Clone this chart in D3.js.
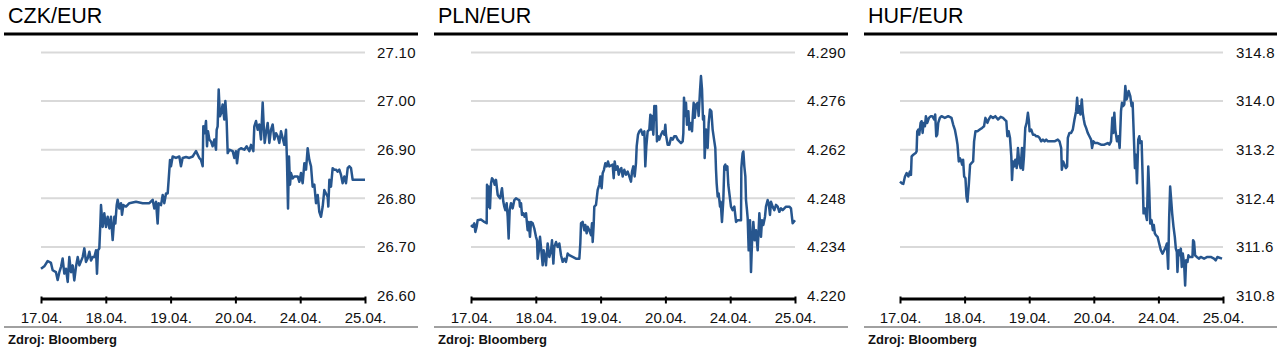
<!DOCTYPE html>
<html>
<head>
<meta charset="utf-8">
<script src="https://cdn.jsdelivr.net/npm/d3@7"></script>
<style>
  html, body { margin: 0; padding: 0; background: #fff; }
  svg { display: block; font-family: "Liberation Sans", Arial, sans-serif; }
</style>
</head>
<body>
<div id="chart"></div>
<script>
// ---- data ----
const dayLabels = ["17.04.", "18.04.", "19.04.", "20.04.", "24.04.", "25.04."];
const titles = ["CZK/EUR", "PLN/EUR", "HUF/EUR"];
const sourceText = "Zdroj: Bloomberg";

const czkTicks = [26.60, 26.70, 26.80, 26.90, 27.00, 27.10];
const plnTicks = [4.220, 4.234, 4.248, 4.262, 4.276, 4.290];
const hufTicks = [310.8, 311.6, 312.4, 313.2, 314.0, 314.8];

// [position in trading days from 17.04., rate]
const czkSeries = [
[0.000,26.655],[0.051,26.660],[0.103,26.671],[0.154,26.667],[0.180,26.652],[0.231,26.648],[0.257,26.632],[0.283,26.648],[0.309,26.659],[0.334,26.676],
[0.360,26.645],[0.386,26.655],[0.412,26.628],[0.437,26.679],[0.463,26.648],[0.489,26.662],[0.514,26.631],[0.540,26.659],[0.566,26.679],[0.592,26.662],
[0.643,26.679],[0.669,26.697],[0.694,26.669],[0.720,26.676],[0.746,26.690],[0.772,26.672],[0.797,26.679],[0.823,26.679],[0.849,26.693],[0.864,26.645],
[0.880,26.693],[0.900,26.697],[0.916,26.748],[0.926,26.786],[0.952,26.741],[0.977,26.769],[1.003,26.741],[1.029,26.762],[1.055,26.738],[1.080,26.762],
[1.106,26.714],[1.132,26.762],[1.147,26.748],[1.168,26.786],[1.183,26.797],[1.209,26.779],[1.235,26.790],[1.250,26.766],[1.271,26.786],[1.312,26.783],
[1.363,26.790],[1.466,26.793],[1.569,26.790],[1.672,26.790],[1.723,26.797],[1.749,26.779],[1.775,26.793],[1.800,26.748],[1.816,26.790],[1.852,26.786],
[1.878,26.807],[1.903,26.790],[1.929,26.810],[1.955,26.810],[1.970,26.838],[1.991,26.879],[2.006,26.866],[2.032,26.886],[2.083,26.883],[2.135,26.886],
[2.160,26.866],[2.186,26.883],[2.238,26.885],[2.289,26.883],[2.341,26.886],[2.392,26.897],[2.443,26.883],[2.469,26.879],[2.495,26.866],[2.505,26.948],
[2.526,26.934],[2.546,26.959],[2.562,26.907],[2.577,26.938],[2.598,26.921],[2.623,26.917],[2.649,26.907],[2.675,26.921],[2.701,26.900],[2.711,26.941],
[2.726,26.948],[2.742,27.024],[2.762,26.969],[2.783,26.976],[2.803,26.993],[2.829,26.962],[2.845,27.000],[2.865,26.959],[2.881,26.893],[2.906,26.900],
[2.958,26.897],[2.984,26.883],[3.009,26.897],[3.025,26.872],[3.050,26.900],[3.086,26.903],[3.138,26.900],[3.174,26.907],[3.215,26.897],[3.241,26.910],
[3.277,26.897],[3.292,26.948],[3.318,26.959],[3.344,26.941],[3.369,26.952],[3.395,26.921],[3.421,26.997],[3.436,26.952],[3.452,26.914],[3.472,26.934],
[3.498,26.955],[3.524,26.914],[3.549,26.941],[3.575,26.952],[3.601,26.921],[3.627,26.934],[3.652,26.928],[3.678,26.914],[3.704,26.938],[3.729,26.924],
[3.755,26.910],[3.781,26.941],[3.796,26.876],[3.812,26.779],[3.827,26.886],[3.843,26.828],[3.858,26.852],[3.884,26.841],[3.909,26.845],[3.961,26.845],
[3.987,26.834],[4.012,26.852],[4.038,26.831],[4.064,26.872],[4.090,26.859],[4.115,26.903],[4.141,26.879],[4.167,26.866],[4.192,26.824],[4.218,26.828],
[4.244,26.790],[4.270,26.807],[4.295,26.772],[4.321,26.762],[4.347,26.783],[4.372,26.817],[4.398,26.810],[4.424,26.803],[4.434,26.783],[4.450,26.838],
[4.475,26.824],[4.501,26.862],[4.527,26.859],[4.552,26.859],[4.578,26.855],[4.604,26.859],[4.630,26.848],[4.655,26.831],[4.681,26.845],[4.707,26.831],
[4.733,26.862],[4.758,26.866],[4.784,26.862],[4.810,26.838],[4.861,26.838],[4.913,26.838],[5.000,26.838]
];

const plnSeries = [
[0.000,4.2403],[0.026,4.2398],[0.051,4.2408],[0.067,4.2383],[0.087,4.2398],[0.103,4.2417],[0.154,4.2419],[0.206,4.2412],[0.242,4.2408],[0.247,4.2519],
[0.262,4.2456],[0.273,4.2514],[0.293,4.2451],[0.309,4.2523],[0.324,4.2538],[0.345,4.2533],[0.365,4.2519],[0.386,4.2533],[0.412,4.2490],[0.427,4.2485],
[0.448,4.2480],[0.463,4.2494],[0.478,4.2509],[0.499,4.2470],[0.514,4.2456],[0.530,4.2446],[0.550,4.2466],[0.566,4.2427],[0.581,4.2364],[0.597,4.2446],
[0.617,4.2466],[0.643,4.2451],[0.669,4.2475],[0.694,4.2480],[0.720,4.2477],[0.746,4.2475],[0.756,4.2456],[0.772,4.2466],[0.787,4.2432],[0.808,4.2437],
[0.828,4.2427],[0.849,4.2437],[0.874,4.2388],[0.890,4.2412],[0.910,4.2369],[0.926,4.2412],[0.952,4.2408],[0.977,4.2393],[1.003,4.2369],[1.019,4.2359],
[1.029,4.2306],[1.044,4.2325],[1.065,4.2369],[1.085,4.2330],[1.106,4.2287],[1.121,4.2330],[1.137,4.2316],[1.157,4.2287],[1.183,4.2350],[1.209,4.2311],
[1.235,4.2330],[1.250,4.2359],[1.271,4.2292],[1.286,4.2340],[1.312,4.2354],[1.337,4.2340],[1.363,4.2350],[1.389,4.2316],[1.415,4.2297],[1.440,4.2306],
[1.466,4.2297],[1.492,4.2321],[1.517,4.2316],[1.569,4.2311],[1.620,4.2306],[1.672,4.2306],[1.687,4.2350],[1.698,4.2408],[1.723,4.2412],[1.749,4.2388],
[1.764,4.2403],[1.785,4.2379],[1.800,4.2398],[1.826,4.2388],[1.852,4.2374],[1.867,4.2408],[1.878,4.2354],[1.893,4.2403],[1.903,4.2456],[1.929,4.2461],
[1.955,4.2504],[1.980,4.2519],[1.996,4.2543],[2.016,4.2509],[2.032,4.2552],[2.052,4.2562],[2.073,4.2581],[2.094,4.2572],[2.114,4.2586],[2.135,4.2572],
[2.186,4.2577],[2.202,4.2538],[2.217,4.2586],[2.238,4.2562],[2.263,4.2572],[2.279,4.2548],[2.299,4.2562],[2.320,4.2567],[2.341,4.2543],[2.366,4.2562],
[2.392,4.2548],[2.418,4.2557],[2.443,4.2543],[2.469,4.2528],[2.485,4.2557],[2.505,4.2572],[2.526,4.2543],[2.546,4.2581],[2.557,4.2630],[2.577,4.2663],
[2.598,4.2673],[2.623,4.2678],[2.649,4.2663],[2.675,4.2673],[2.690,4.2572],[2.706,4.2630],[2.726,4.2673],[2.752,4.2678],[2.768,4.2721],[2.778,4.2678],
[2.793,4.2717],[2.814,4.2663],[2.829,4.2746],[2.845,4.2707],[2.855,4.2746],[2.870,4.2644],[2.886,4.2659],[2.906,4.2649],[2.932,4.2663],[2.958,4.2673],
[2.984,4.2663],[2.999,4.2692],[3.009,4.2663],[3.035,4.2634],[3.061,4.2634],[3.086,4.2654],[3.112,4.2649],[3.138,4.2659],[3.164,4.2659],[3.189,4.2649],
[3.215,4.2644],[3.241,4.2639],[3.267,4.2644],[3.277,4.2668],[3.287,4.2770],[3.302,4.2717],[3.318,4.2755],[3.333,4.2692],[3.354,4.2731],[3.369,4.2678],
[3.395,4.2697],[3.411,4.2673],[3.421,4.2712],[3.436,4.2755],[3.452,4.2712],[3.472,4.2750],[3.498,4.2755],[3.513,4.2717],[3.534,4.2789],[3.549,4.2832],
[3.565,4.2794],[3.580,4.2707],[3.596,4.2717],[3.606,4.2596],[3.627,4.2678],[3.652,4.2625],[3.668,4.2697],[3.688,4.2736],[3.709,4.2731],[3.729,4.2678],
[3.755,4.2644],[3.770,4.2625],[3.781,4.2562],[3.791,4.2523],[3.807,4.2485],[3.822,4.2494],[3.843,4.2456],[3.853,4.2470],[3.873,4.2412],[3.894,4.2475],
[3.909,4.2572],[3.925,4.2577],[3.940,4.2562],[3.956,4.2572],[3.971,4.2519],[3.987,4.2494],[4.012,4.2456],[4.038,4.2446],[4.064,4.2456],[4.090,4.2412],
[4.115,4.2417],[4.167,4.2417],[4.172,4.2567],[4.182,4.2591],[4.192,4.2610],[4.203,4.2615],[4.218,4.2572],[4.234,4.2543],[4.244,4.2475],[4.259,4.2446],
[4.270,4.2422],[4.285,4.2330],[4.306,4.2417],[4.321,4.2268],[4.336,4.2350],[4.357,4.2412],[4.378,4.2359],[4.398,4.2388],[4.424,4.2330],[4.450,4.2437],
[4.475,4.2369],[4.491,4.2417],[4.511,4.2403],[4.537,4.2427],[4.552,4.2456],[4.578,4.2475],[4.594,4.2466],[4.614,4.2432],[4.630,4.2470],[4.655,4.2456],
[4.681,4.2446],[4.707,4.2461],[4.733,4.2456],[4.758,4.2441],[4.784,4.2451],[4.810,4.2446],[4.861,4.2456],[4.913,4.2456],[4.938,4.2451],[4.964,4.2408],
[5.000,4.2417]
];

const hufSeries = [
[0.000,312.676],[0.026,312.648],[0.051,312.637],[0.077,312.759],[0.103,312.814],[0.129,312.759],[0.154,312.841],[0.170,312.786],[0.180,313.090],[0.206,313.117],
[0.242,313.145],[0.257,313.172],[0.267,313.503],[0.283,313.531],[0.298,313.448],[0.319,313.641],[0.334,313.669],[0.350,313.476],[0.365,313.641],[0.386,313.586],
[0.401,313.752],[0.422,313.641],[0.448,313.724],[0.478,313.752],[0.499,313.752],[0.530,313.697],[0.545,313.779],[0.561,313.421],[0.576,313.448],[0.592,313.641],
[0.617,313.724],[0.643,313.752],[0.694,313.724],[0.746,313.752],[0.797,313.724],[0.823,313.614],[0.849,313.531],[0.874,313.393],[0.890,313.283],[0.910,313.007],
[0.926,313.062],[0.941,313.034],[0.962,312.952],[0.977,313.034],[0.993,312.759],[1.013,312.731],[1.029,312.428],[1.044,312.345],[1.065,312.621],[1.085,312.952],
[1.106,312.979],[1.132,313.007],[1.147,313.338],[1.168,313.503],[1.199,313.503],[1.235,313.531],[1.271,313.559],[1.301,313.586],[1.322,313.724],[1.353,313.641],
[1.373,313.697],[1.404,313.752],[1.440,313.724],[1.476,313.752],[1.517,313.697],[1.559,313.741],[1.595,313.724],[1.620,313.697],[1.646,313.669],[1.662,313.421],
[1.682,313.503],[1.703,313.393],[1.723,313.090],[1.734,312.703],[1.749,313.007],[1.764,312.924],[1.785,313.034],[1.806,312.897],[1.826,313.228],[1.847,312.979],
[1.867,312.897],[1.888,313.228],[1.903,312.869],[1.919,313.090],[1.939,313.559],[1.960,313.641],[1.980,313.807],[1.996,313.669],[2.006,313.503],[2.032,313.531],
[2.058,313.448],[2.083,313.448],[2.109,313.421],[2.135,313.421],[2.160,313.393],[2.186,313.338],[2.212,313.366],[2.238,313.338],[2.263,313.366],[2.289,313.338],
[2.341,313.338],[2.392,313.338],[2.443,313.366],[2.469,313.338],[2.495,313.228],[2.505,312.869],[2.526,313.007],[2.546,312.952],[2.567,312.897],[2.587,312.924],
[2.598,313.393],[2.623,313.476],[2.649,313.476],[2.675,313.531],[2.701,313.697],[2.726,313.834],[2.742,314.055],[2.757,313.807],[2.778,313.917],[2.793,313.779],
[2.814,314.028],[2.829,313.807],[2.845,313.697],[2.860,313.614],[2.881,313.559],[2.906,313.476],[2.932,313.421],[2.958,313.366],[2.973,313.228],[2.994,313.338],
[3.020,313.310],[3.061,313.310],[3.112,313.283],[3.164,313.283],[3.215,313.310],[3.241,313.283],[3.267,313.338],[3.287,313.724],[3.302,313.476],[3.318,313.807],
[3.333,313.531],[3.359,313.338],[3.380,313.421],[3.400,313.228],[3.421,313.834],[3.436,313.972],[3.452,313.917],[3.472,313.945],[3.488,314.248],[3.508,314.028],
[3.524,314.083],[3.539,314.166],[3.565,314.083],[3.585,313.917],[3.601,313.972],[3.616,313.531],[3.637,312.897],[3.652,313.117],[3.668,312.648],[3.688,313.366],
[3.704,313.421],[3.719,313.310],[3.740,313.338],[3.755,312.786],[3.770,312.152],[3.791,312.234],[3.807,312.124],[3.822,312.041],[3.843,312.924],[3.858,312.538],
[3.873,311.986],[3.894,312.041],[3.914,311.876],[3.929,311.959],[3.945,311.821],[3.961,311.793],[3.987,311.766],[4.012,311.655],[4.038,311.545],[4.064,311.490],
[4.090,311.545],[4.115,311.600],[4.131,311.655],[4.151,311.241],[4.167,312.097],[4.182,312.593],[4.198,312.372],[4.213,312.152],[4.234,311.931],[4.254,311.766],
[4.270,311.572],[4.285,311.517],[4.295,311.186],[4.311,311.545],[4.326,311.462],[4.347,311.572],[4.362,311.269],[4.378,311.490],[4.398,311.324],[4.414,310.966],
[4.429,311.379],[4.450,311.352],[4.465,311.462],[4.480,311.434],[4.501,311.434],[4.527,311.434],[4.537,311.710],[4.552,311.683],[4.568,311.462],[4.594,311.434],
[4.630,311.407],[4.655,311.434],[4.707,311.407],[4.758,311.434],[4.810,311.434],[4.861,311.407],[4.887,311.379],[4.913,311.434],[4.985,311.407]
];

// ---- drawing ----
const W = 1283, H = 356;
const svg = d3.select("#chart").append("svg").attr("width", W).attr("height", H);

const panels = [
  { title: titles[0], series: czkSeries, ticks: czkTicks, fmt: d3.format(".2f"), ox: 0,   pl: 41, pr: 365, bw: 414 },
  { title: titles[1], series: plnSeries, ticks: plnTicks, fmt: d3.format(".3f"), ox: 430, pl: 41, pr: 365, bw: 414 },
  { title: titles[2], series: hufSeries, ticks: hufTicks, fmt: d3.format(".1f"), ox: 860, pl: 40, pr: 363, bw: 413 }
];

const yTop = 52.5, yBot = 295.5;
const lineColor = "#27568e";
const fam = "'Liberation Sans', Arial, sans-serif";

panels.forEach(p => {
  const g = svg.append("g").attr("transform", `translate(${p.ox},0)`);

  // title
  g.append("text").attr("x", 8).attr("y", 22.5)
    .attr("font-size", 21.5).attr("fill", "#000").text(p.title);
  // heavy rule under title
  g.append("rect").attr("x", 4).attr("y", 32.5).attr("width", p.bw).attr("height", 3).attr("fill", "#000");

  const x = d3.scaleLinear().domain([0, dayLabels.length - 1]).range([p.pl, p.pr]);
  const y = d3.scaleLinear().domain([p.ticks[0], p.ticks[p.ticks.length - 1]]).range([yBot, yTop]);

  // gridlines (all except the bottom one, which is the axis)
  g.append("g").selectAll("line").data(p.ticks.slice(1)).join("line")
    .attr("x1", p.pl).attr("x2", p.pr)
    .attr("y1", d => y(d)).attr("y2", d => y(d))
    .attr("stroke", "#d9d9d9").attr("stroke-width", 2);

  // y labels on right
  const yAxis = d3.axisRight(y).tickValues(p.ticks).tickFormat(p.fmt).tickSize(0).tickPadding(0);
  const ya = g.append("g").attr("transform", `translate(${p.pl + 336},0)`).call(yAxis);
  ya.select(".domain").remove();
  ya.selectAll("text").attr("font-size", 15).attr("fill", "#111")
    .attr("letter-spacing", "0.25px").attr("font-family", fam);

  // x axis line
  g.append("line").attr("x1", p.pl).attr("x2", p.pr + 1)
    .attr("y1", yBot + 3.5).attr("y2", yBot + 3.5)
    .attr("stroke", "#000").attr("stroke-width", 3);
  const xa = g.append("g").attr("transform", `translate(0,${yBot + 1})`)
    .call(d3.axisBottom(x).tickValues(d3.range(dayLabels.length))
      .tickFormat(i => dayLabels[i]).tickSize(7).tickPadding(9));
  xa.select(".domain").remove();
  xa.selectAll(".tick line").attr("stroke", "#000").attr("stroke-width", 2);
  xa.selectAll("text").attr("font-size", 15).attr("fill", "#111").attr("font-family", fam);

  // data line
  const line = d3.line().x(d => x(d[0])).y(d => y(d[1]));
  g.append("path").datum(p.series).attr("d", line)
    .attr("fill", "none").attr("stroke", lineColor).attr("stroke-width", 2.5)
    .attr("stroke-linejoin", "round");

  // bottom rule and source
  g.append("rect").attr("x", 4).attr("y", 326).attr("width", p.bw).attr("height", 2).attr("fill", "#a0a0a0");
  g.append("text").attr("x", 8).attr("y", 343.5).attr("font-size", 13).attr("font-weight", "bold")
    .attr("fill", "#111").text(sourceText);
});
</script>
</body>
</html>
